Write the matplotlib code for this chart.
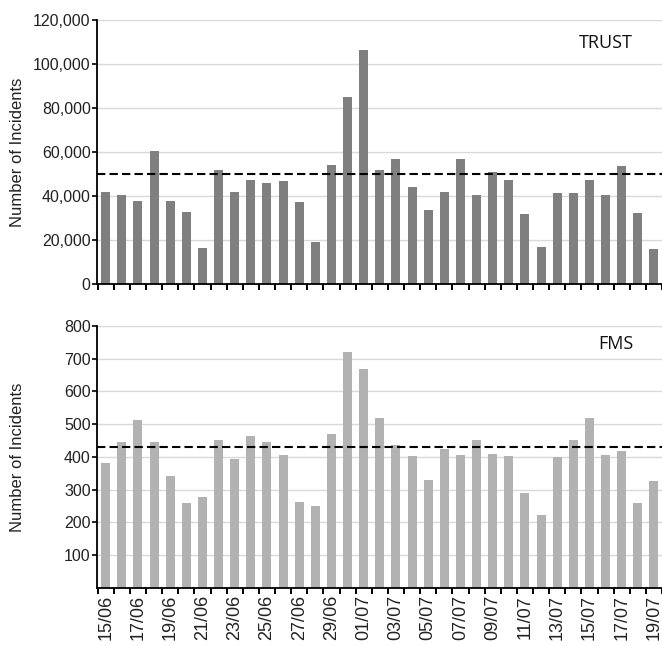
import matplotlib
matplotlib.use("Agg")
import matplotlib.pyplot as plt
import numpy as np

dates = ["15/06", "16/06", "17/06", "18/06", "19/06", "20/06", "21/06", "22/06",
         "23/06", "24/06", "25/06", "26/06", "27/06", "28/06", "29/06", "30/06",
         "01/07", "02/07", "03/07", "04/07", "05/07", "06/07", "07/07", "08/07",
         "09/07", "10/07", "11/07", "12/07", "13/07", "14/07", "15/07", "16/07",
         "17/07", "18/07", "19/07"]

trust = [41700, 40500, 37900, 60600, 37600, 32800, 16200, 51600, 41700, 47200,
         45700, 46900, 37300, 19200, 54100, 85200, 106300, 51900, 56800, 44000,
         33700, 41700, 56700, 40600, 51000, 47300, 31600, 17000, 41200, 41400,
         47200, 40500, 53600, 32400, 15900]

fms = [382, 446, 513, 445, 342, 258, 278, 451, 395, 463, 446, 406, 264, 251,
       471, 720, 669, 519, 436, 403, 331, 423, 406, 452, 409, 402, 289, 223,
       401, 452, 518, 405, 417, 258, 326]

trust_ref = 50000
fms_ref = 431

trust_yticks = [0, 20000, 40000, 60000, 80000, 100000, 120000]
trust_ylabels = ["0", "20,000", "40,000", "60,000", "80,000", "100,000", "120,000"]
fms_yticks = [100, 200, 300, 400, 500, 600, 700, 800]
fms_ylabels = ["100", "200", "300", "400", "500", "600", "700", "800"]

plt.rcParams['font.family'] = ['Liberation Sans', 'DejaVu Sans']

fig = plt.figure(figsize=(6.62, 6.46), dpi=100)
ax1 = fig.add_axes([0.1465, 0.5604, 0.8535, 0.4087])
ax2 = fig.add_axes([0.1465, 0.0898, 0.8535, 0.4056])

x = np.arange(len(dates))

def style(ax, values, color, ref, yticks, ylabels, ymax, label, lx, ly):
    ax.set_axisbelow(True)
    ax.bar(x, values, width=0.56, color=color, zorder=2)
    ax.axhline(ref, color='black', lw=1.5, dashes=(4, 2), zorder=3)
    ax.set_ylim(0, ymax)
    ax.set_xlim(-0.54, 34.27)
    ax.set_yticks(yticks)
    ax.set_yticklabels(ylabels)
    ax.yaxis.grid(True, color='#d9d9d9', lw=1)
    for s in ['top', 'right']:
        ax.spines[s].set_visible(False)
    for s in ['left', 'bottom']:
        ax.spines[s].set_linewidth(1.3)
        ax.spines[s].set_color('black')
    ax.set_xticks(np.arange(len(dates) + 1) - 0.5)
    ax.set_xticklabels([])
    ax.tick_params(axis='x', which='major', length=4, width=1.4, direction='out')
    ax.tick_params(axis='y', which='major', length=3.5, width=1.2, direction='out',
                   pad=1, labelsize=11.5, labelcolor='#222222')
    ax.set_ylabel("Number of Incidents", fontsize=12, color='#222222')
    ax.yaxis.set_label_coords(-0.127, 0.5)
    ax.text(lx, ly, label, transform=ax.transAxes, ha='center', va='center',
            fontsize=13, family=['Open Sans', 'DejaVu Sans'], color='#111111')

style(ax1, trust, '#7f7f7f', trust_ref, trust_yticks, trust_ylabels, 120000,
      "TRUST", 0.90, 0.911)
style(ax2, fms, '#b2b2b2', fms_ref, fms_yticks, fms_ylabels, 800,
      "FMS", 0.918, 0.933)

ax2.set_xticks(x[::2], minor=True)
ax2.set_xticklabels(dates[::2], minor=True, rotation=90, fontsize=13, color='#222222')
ax2.tick_params(axis='x', which='minor', length=0, pad=5)

fig.savefig("out.png", dpi=100)
